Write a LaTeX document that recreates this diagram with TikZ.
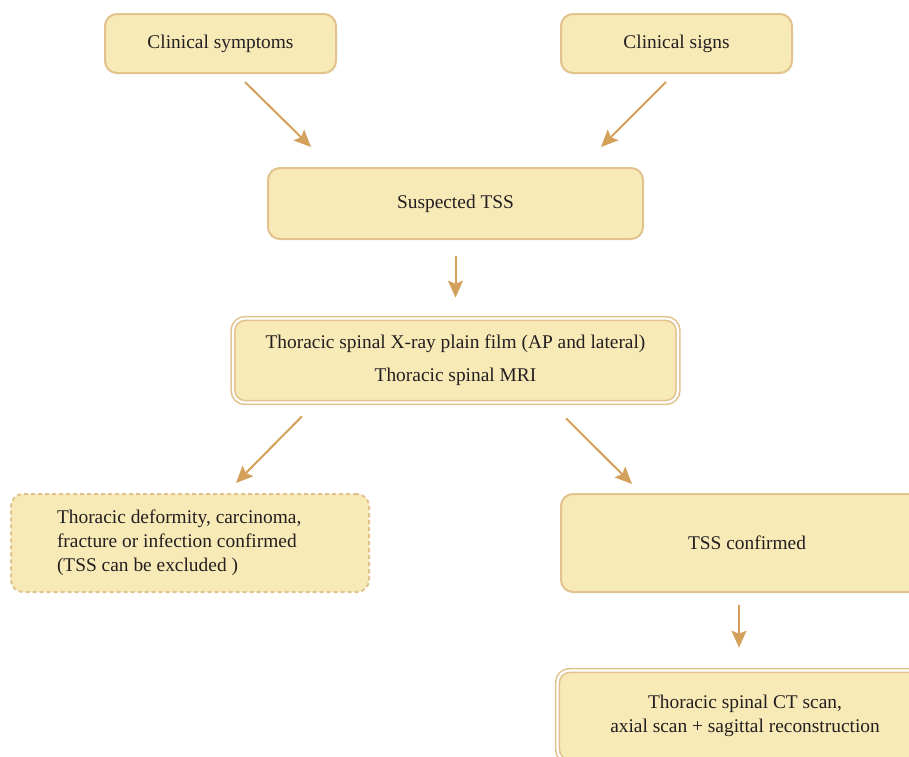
\documentclass[tikz,border=0pt]{standalone}
\usepackage{fontspec}
\setmainfont{Liberation Serif}
\usetikzlibrary{arrows.meta,calc}
\definecolor{boxfill}{HTML}{F7EAB7}
\definecolor{boxline}{HTML}{E2C28D}
\definecolor{arrline}{HTML}{D4A15C}
\definecolor{txt}{HTML}{231F20}
\begin{document}
\begin{tikzpicture}[x=0.5pt,y=-0.5pt,
  box/.style={draw=boxline,fill=boxfill,line width=1pt,rounded corners=6pt,
    inner sep=0pt,align=center,text=txt,font=\fontsize{9.7}{12}\selectfont},
  dbox/.style={box,line width=0.8pt,double=white,double distance=1.1pt},
  dotbox/.style={box,dash pattern=on 2pt off 1.5pt,align=flush left,inner xsep=23pt},
  arr/.style={draw=arrline,line width=1pt,-{Stealth[length=8.5pt,width=7.5pt,inset=1.5pt]}}]
\clip (0,0) rectangle (909,756);
% boxes
\node[box,minimum width=115.5pt,minimum height=29.5pt] (sym) at (220.5,43.5) {Clinical symptoms};
\node[box,minimum width=115.5pt,minimum height=29.5pt] (sig) at (676.5,43.5) {Clinical signs};
\node[box,minimum width=187.5pt,minimum height=35.5pt] (sus) at (455.5,203.5) {Suspected TSS};
\node[dbox,minimum width=222.5pt,minimum height=42pt] (xray) at (455.5,360.5)
  {Thoracic spinal X-ray plain film (AP and lateral)\\[4.5pt] Thoracic spinal MRI};
\node[dotbox,text width=133pt,minimum height=49pt] (excl) at (190,543)
  {Thoracic deformity, carcinoma,\\ fracture or infection confirmed\\ (TSS can be excluded )};
\node[box,minimum width=186pt,minimum height=49pt] (conf) at (747,543) {TSS confirmed};
\node[dbox,minimum width=187.5pt,minimum height=45.5pt] (ct) at (745,716)
  {Thoracic spinal CT scan,\\ axial scan + sagittal reconstruction};
% arrows
\draw[arr] ($(sym.south)+(24.5,8)$) -- ($(sus.north)+(-144.5,-20)$);
\draw[arr] ($(sig.south)+(-10.5,8)$) -- ($(sus.north)+(145.5,-20)$);
\draw[arr] ($(sus.south)+(0,16)$) -- ($(xray.north)+(0,-20)$);
\draw[arr] ($(xray.south)+(-153.5,13)$) -- ($(excl.north)+(46,-10)$);
\draw[arr] ($(xray.south)+(110.5,15)$) -- ($(conf.north)+(-115,-9)$);
\draw[arr] ($(conf.south)+(-8,12)$) -- ($(ct.north)+(-6,-22)$);
\end{tikzpicture}
\end{document}
